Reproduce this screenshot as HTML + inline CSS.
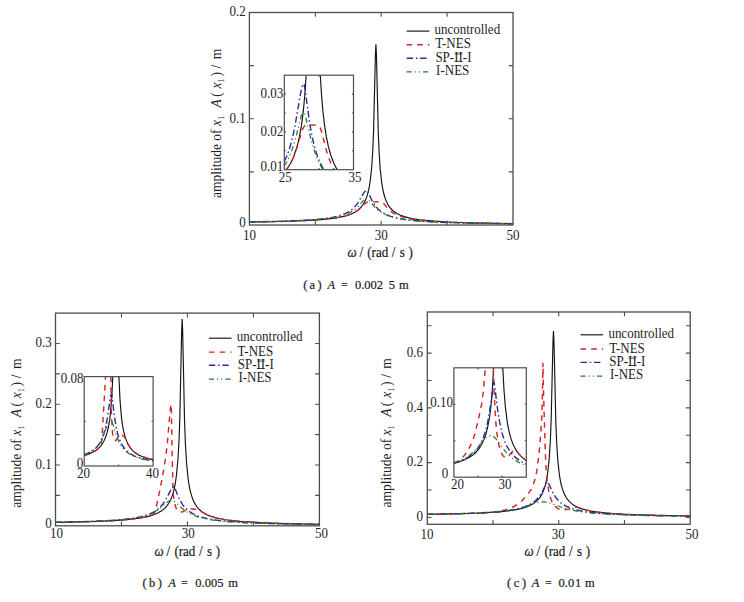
<!DOCTYPE html>
<html><head><meta charset="utf-8"><title>Amplitude-frequency response</title>
<style>html,body{margin:0;padding:0;background:#fff;}body{width:744px;height:602px;overflow:hidden;}svg{display:block;}</style>
</head><body>
<svg width="744" height="602" viewBox="0 0 744 602" font-family='"Liberation Serif", serif' fill="#1e1e1e">
<rect width="744" height="602" fill="#fff"/>
<path d="M249.40 221.99L279.98 221.45L303.44 220.66L321.21 219.56L334.65 218.07L340.06 217.15L344.77 216.08L348.86 214.86L352.41 213.44L355.51 211.81L358.18 209.95L360.52 207.79L362.56 205.29L364.31 202.47L365.83 199.25L367.15 195.58L368.30 191.38L369.29 186.67L370.18 181.16L371.66 167.46L372.71 151.50L373.57 131.30L375.42 54.65L375.91 44.30L376.41 54.19L378.28 132.70L379.17 153.51L380.26 169.61L381.78 183.20L382.70 188.72L383.75 193.52L384.97 197.74L386.36 201.37L387.94 204.52L389.78 207.30L391.93 209.73L394.40 211.84L397.27 213.68L400.56 215.27L404.35 216.64L408.73 217.83L413.78 218.86L419.58 219.74L434.01 221.18L453.22 222.25L478.83 223.04L513.00 223.63" fill="none" stroke="#141414" stroke-width="1.15"/>
<path d="M249.40 221.99L280.71 221.43L304.57 220.60L322.44 219.45L335.88 217.88L341.29 216.90L345.97 215.76L350.05 214.43L353.55 212.91L356.12 211.45L358.43 209.81L360.67 207.84L364.69 203.72L365.81 202.86L366.86 202.33L369.57 201.87L377.94 201.84L380.97 202.04L382.81 202.83L384.13 204.03L387.56 208.15L389.80 210.41L392.57 212.57L395.67 214.36L399.10 215.85L402.99 217.13L407.47 218.23L412.61 219.19L419.33 220.12L427.24 220.91L447.35 222.15L474.97 223.04L513.00 223.68" fill="none" stroke="#d42626" stroke-width="1.45" stroke-dasharray="5.6 5.1"/>
<path d="M249.40 221.96L283.68 221.23L308.26 220.09L317.76 219.33L325.73 218.43L332.45 217.35L338.19 216.04L342.67 214.63L346.56 212.96L349.92 211.01L352.89 208.70L355.39 206.14L357.70 203.13L364.29 192.06L365.68 190.67L366.99 190.26L367.92 191.57L371.21 198.90L373.39 202.97L375.83 206.51L378.60 209.52L382.02 212.23L386.11 214.52L390.86 216.39L396.53 217.95L403.45 219.26L411.75 220.35L421.77 221.25L433.83 221.99L465.94 223.08L513.00 223.81" fill="none" stroke="#2a2aa2" stroke-width="1.4" stroke-dasharray="6.4 2.9 1.5 2.7"/>
<path d="M249.40 222.00L281.76 221.36L305.69 220.38L323.23 218.98L330.21 218.08L336.21 217.02L341.16 215.83L345.44 214.46L349.20 212.86L352.56 210.99L355.06 209.21L357.44 207.15L359.94 204.52L364.49 199.11L365.61 198.12L366.40 197.80L367.26 198.22L368.38 199.26L373.13 205.17L375.83 208.10L378.46 210.42L381.36 212.44L385.19 214.48L389.54 216.19L394.55 217.63L400.41 218.86L407.60 219.93L416.10 220.84L426.12 221.59L438.05 222.21L469.03 223.17L513.00 223.82" fill="none" stroke="#237a2c" stroke-width="1.25" stroke-dasharray="5.1 2.9 1.1 3.2 1.1 3.1"/>
<path d="M315.30 225.00v-4.30M315.30 12.50v4.30M381.20 225.00v-4.30M381.20 12.50v4.30M447.10 225.00v-4.30M447.10 12.50v4.30M249.40 171.88h4.30M513.00 171.88h-4.30M249.40 118.75h4.30M513.00 118.75h-4.30M249.40 65.63h4.30M513.00 65.63h-4.30" stroke="#4d4d4d" stroke-width="1.1" fill="none"/>
<rect x="249.40" y="12.50" width="263.60" height="212.50" fill="none" stroke="#4d4d4d" stroke-width="1.3"/>
<text x="245.80" y="227.30" font-size="13" text-anchor="end" transform="matrix(1 0 0 1.040 0 -9.092)">0</text>
<text x="245.80" y="122.55" font-size="13" text-anchor="end" transform="matrix(1 0 0 1.040 0 -4.902)">0.1</text>
<text x="245.80" y="16.30" font-size="13" text-anchor="end" transform="matrix(1 0 0 1.040 0 -0.652)">0.2</text>
<text x="249.40" y="240.00" font-size="13" text-anchor="middle" transform="matrix(1 0 0 1.040 0 -9.600)">10</text>
<text x="381.20" y="240.00" font-size="13" text-anchor="middle" transform="matrix(1 0 0 1.040 0 -9.600)">30</text>
<text x="513.00" y="240.00" font-size="13" text-anchor="middle" transform="matrix(1 0 0 1.040 0 -9.600)">50</text>
<rect x="284.30" y="75.20" width="69.20" height="94.50" fill="#fff"/>
<path d="M286.33 169.70L288.45 166.72L290.40 163.50L292.21 159.97L293.87 156.16L296.83 147.52L299.33 137.38L301.46 125.43L303.29 111.32L304.83 94.80L306.16 75.20M320.30 75.20L321.48 94.11L322.85 110.41L324.43 124.32L326.28 136.35L328.41 146.64L330.90 155.53L333.80 163.15L337.17 169.70" fill="none" stroke="#141414" stroke-width="1.15"/>
<path d="M286.34 169.70L288.50 166.67L290.51 163.35L292.38 159.70L294.11 155.74L297.01 147.49L301.51 131.94L302.46 129.36L303.36 127.56L304.61 126.07L306.13 125.33L308.07 125.12L313.35 125.10L316.56 125.16L318.10 125.50L319.33 126.42L320.37 128.10L321.89 132.56L325.63 147.72L327.98 155.75L330.84 163.27L334.11 169.70" fill="none" stroke="#d42626" stroke-width="1.45" stroke-dasharray="5.6 5.1"/>
<path d="M284.30 161.44L286.40 156.94L288.34 151.96L290.14 146.44L291.82 140.33L293.53 133.03L295.21 124.60L301.03 90.83L301.81 87.62L302.55 85.47L303.27 84.26L304.03 83.90L305.07 89.35L309.61 122.65L311.30 132.39L313.07 140.93L315.31 149.62L317.80 157.24L320.60 163.90L323.73 169.70" fill="none" stroke="#2a2aa2" stroke-width="1.4" stroke-dasharray="6.4 2.9 1.5 2.7"/>
<path d="M284.30 165.91L286.56 162.13L288.68 157.95L290.67 153.36L292.54 148.32L296.00 136.85L301.40 115.23L302.51 111.94L303.34 110.73L303.73 111.12L304.21 112.09L305.34 115.60L310.90 138.88L314.44 151.10L316.35 156.47L318.38 161.33L320.53 165.70L322.85 169.70" fill="none" stroke="#237a2c" stroke-width="1.25" stroke-dasharray="5.1 2.9 1.1 3.2 1.1 3.1"/>
<path d="M318.90 169.70v-1.60M318.90 75.20v1.60M284.30 150.80h1.60M353.50 150.80h-1.60M284.30 131.90h1.60M353.50 131.90h-1.60M284.30 113.00h1.60M353.50 113.00h-1.60M284.30 94.10h1.60M353.50 94.10h-1.60" stroke="#4d4d4d" stroke-width="1.1" fill="none"/>
<rect x="284.30" y="75.20" width="69.20" height="94.50" fill="none" stroke="#4d4d4d" stroke-width="1.2"/>
<text x="283.30" y="170.70" font-size="13" text-anchor="end" transform="matrix(1 0 0 1.040 0 -6.828)">0.01</text>
<text x="283.30" y="136.10" font-size="13" text-anchor="end" transform="matrix(1 0 0 1.040 0 -5.444)">0.02</text>
<text x="283.30" y="98.50" font-size="13" text-anchor="end" transform="matrix(1 0 0 1.040 0 -3.940)">0.03</text>
<text x="285.20" y="181.80" font-size="13" text-anchor="middle" transform="matrix(1 0 0 1.040 0 -7.272)">25</text>
<text x="355.00" y="181.80" font-size="13" text-anchor="middle" transform="matrix(1 0 0 1.040 0 -7.272)">35</text>
<path d="M406.60 31.10H429.40" fill="none" stroke="#141414" stroke-width="1.15"/>
<text x="434.50" y="34.10" font-size="13" text-anchor="start" transform="matrix(1 0 0 1.040 0 -1.364)">uncontrolled</text>
<path d="M406.60 44.80H429.40" fill="none" stroke="#d42626" stroke-width="1.45" stroke-dasharray="5.6 5.1"/>
<text x="435.30" y="48.50" font-size="13" text-anchor="start" transform="matrix(1 0 0 1.040 0 -1.940)">T-NES</text>
<path d="M406.60 58.20H429.40" fill="none" stroke="#2a2aa2" stroke-width="1.4" stroke-dasharray="6.4 2.9 1.5 2.7"/>
<text x="435.40" y="61.80" font-size="13" text-anchor="start" transform="matrix(1 0 0 1.040 0 -2.472)">SP-II-I</text>
<path d="M454.70 53.95H462.40M454.70 61.40H462.40" stroke="#1e1e1e" stroke-width="0.75" fill="none"/>
<path d="M406.60 71.80H429.40" fill="none" stroke="#237a2c" stroke-width="1.25" stroke-dasharray="5.1 2.9 1.1 3.2 1.1 3.1"/>
<text x="436.10" y="74.90" font-size="13" text-anchor="start" transform="matrix(1 0 0 1.040 0 -2.996)">I-NES</text>
<text transform="matrix(1.040 0 0 1 -8.840 0) rotate(-90)" x="-198.00" y="221.00" font-size="13.5">amplitude of <tspan font-style="italic">x</tspan><tspan font-size="8.5" dy="3">1</tspan><tspan dy="-3" x="-107.40" font-style="italic">A</tspan><tspan x="-96.80">(</tspan><tspan x="-88.40" font-style="italic">x</tspan><tspan font-size="8.5" dy="3">1</tspan><tspan dy="-3" x="-76.60">)</tspan><tspan x="-68.40">/</tspan><tspan x="-59.30">m</tspan></text>
<text y="256.60" transform="matrix(1 0 0 1.040 0 -10.264)" font-size="13" stroke="#1e1e1e" stroke-width="0.2"><tspan x="347.50" font-style="italic">ω</tspan><tspan x="359.40">/</tspan><tspan x="367.30">(rad</tspan><tspan x="391.80">/</tspan><tspan x="399.80">s</tspan><tspan x="408.60">)</tspan></text>
<text y="288.90" transform="matrix(1 0 0 1.040 0 -11.556)" font-size="12.5" stroke="#1e1e1e" stroke-width="0.22"><tspan x="303.30">(</tspan><tspan x="309.60">a</tspan><tspan x="317.60">)</tspan><tspan x="327.60" font-style="italic">A</tspan><tspan x="341.30" font-size="11.2">=</tspan><tspan x="355.00">0.002</tspan><tspan x="388.80">5</tspan><tspan x="399.00">m</tspan></text>
<path d="M55.50 522.36L86.12 521.74L109.61 520.83L127.39 519.57L134.58 518.79L140.85 517.87L146.26 516.82L150.98 515.60L155.07 514.20L158.63 512.58L161.73 510.71L164.41 508.58L166.75 506.11L168.79 503.25L170.54 500.03L172.06 496.35L173.38 492.15L174.53 487.34L175.52 481.95L176.41 475.65L177.90 459.98L178.95 441.72L179.81 418.61L181.66 330.93L182.15 319.09L182.65 330.40L184.53 420.21L185.42 444.02L186.51 462.44L188.03 477.98L188.95 484.30L190.01 489.79L191.23 494.62L192.61 498.77L194.20 502.37L196.04 505.55L198.19 508.33L200.66 510.74L203.53 512.85L206.83 514.67L210.63 516.23L215.01 517.60L220.06 518.77L225.87 519.79L240.32 521.43L259.55 522.65L285.19 523.56L319.40 524.23" fill="none" stroke="#141414" stroke-width="1.15"/>
<path d="M55.50 522.36L97.22 521.38L112.80 520.65L125.51 519.75L136.78 518.49L145.65 516.95L151.11 515.57L153.66 513.68L154.70 512.33L155.26 510.94L157.69 500.39L161.92 479.61L165.73 457.32L167.20 444.95L170.29 409.01L171.09 404.26L171.35 408.33L172.19 457.93L173.18 492.52L173.81 498.84L174.52 502.86L176.09 508.19L176.89 509.80L177.84 510.85L179.49 511.73L181.71 512.00L183.11 511.59L186.95 509.38L189.10 508.79L191.35 508.69L196.49 509.52L198.35 510.00L200.27 510.86L204.91 513.67L207.85 515.13L214.03 517.32L218.74 518.50L224.04 519.50L237.28 521.16L251.41 522.22L269.07 523.05L291.44 523.71L319.40 524.23" fill="none" stroke="#d42626" stroke-width="1.45" stroke-dasharray="5.6 5.1"/>
<path d="M55.50 522.33L90.01 521.50L114.83 520.21L124.40 519.36L132.51 518.32L139.31 517.09L145.12 515.61L149.74 513.98L153.70 512.08L157.13 509.84L160.16 507.20L162.67 504.33L165.05 500.87L171.65 488.49L172.83 487.11L173.89 486.66L174.81 488.11L178.18 496.37L180.36 500.88L182.80 504.84L185.57 508.21L189.07 511.31L193.09 513.85L197.91 515.99L203.58 517.75L210.51 519.25L218.83 520.48L228.79 521.50L240.80 522.34L255.26 523.03L272.74 523.59L319.40 524.43" fill="none" stroke="#2a2aa2" stroke-width="1.4" stroke-dasharray="6.4 2.9 1.5 2.7"/>
<path d="M55.50 522.34L84.80 521.68L107.11 520.71L124.00 519.35L130.86 518.50L136.87 517.51L141.68 516.46L145.97 515.28L149.87 513.90L153.37 512.33L156.47 510.61L159.37 508.65L168.02 501.54L169.80 500.58L171.32 500.28L172.90 500.63L174.61 501.62L183.79 509.71L187.02 511.98L190.45 513.91L194.48 515.67L199.03 517.19L204.18 518.49L210.05 519.60L217.38 520.62L225.96 521.49L247.73 522.84L277.76 523.80L319.40 524.48" fill="none" stroke="#237a2c" stroke-width="1.25" stroke-dasharray="5.1 2.9 1.1 3.2 1.1 3.1"/>
<path d="M121.47 525.80v-4.30M121.47 313.10v4.30M187.45 525.80v-4.30M187.45 313.10v4.30M253.42 525.80v-4.30M253.42 313.10v4.30M55.50 495.41h4.30M319.40 495.41h-4.30M55.50 465.03h4.30M319.40 465.03h-4.30M55.50 434.64h4.30M319.40 434.64h-4.30M55.50 404.26h4.30M319.40 404.26h-4.30M55.50 373.87h4.30M319.40 373.87h-4.30M55.50 343.49h4.30M319.40 343.49h-4.30" stroke="#4d4d4d" stroke-width="1.1" fill="none"/>
<rect x="55.50" y="313.10" width="263.90" height="212.70" fill="none" stroke="#4d4d4d" stroke-width="1.3"/>
<text x="51.80" y="528.30" font-size="13" text-anchor="end" transform="matrix(1 0 0 1.040 0 -21.132)">0</text>
<text x="51.80" y="469.03" font-size="13" text-anchor="end" transform="matrix(1 0 0 1.040 0 -18.761)">0.1</text>
<text x="51.80" y="408.26" font-size="13" text-anchor="end" transform="matrix(1 0 0 1.040 0 -16.330)">0.2</text>
<text x="51.80" y="347.49" font-size="13" text-anchor="end" transform="matrix(1 0 0 1.040 0 -13.899)">0.3</text>
<text x="56.50" y="538.50" font-size="13" text-anchor="middle" transform="matrix(1 0 0 1.040 0 -21.540)">10</text>
<text x="188.15" y="538.50" font-size="13" text-anchor="middle" transform="matrix(1 0 0 1.040 0 -21.540)">30</text>
<text x="321.40" y="538.50" font-size="13" text-anchor="middle" transform="matrix(1 0 0 1.040 0 -21.540)">50</text>
<rect x="84.20" y="376.60" width="68.90" height="89.40" fill="#fff"/>
<path d="M84.20 455.48L88.44 454.15L92.11 452.60L95.29 450.81L98.05 448.73L100.44 446.32L102.51 443.54L104.30 440.33L105.86 436.59L107.20 432.31L108.38 427.34L109.39 421.63L110.27 414.99L111.71 398.45L112.79 376.60M118.90 376.60L120.06 400.92L121.61 418.59L122.58 425.60L123.72 431.60L125.05 436.76L126.60 441.15L128.41 444.90L130.52 448.11L132.99 450.86L135.86 453.21L139.23 455.21L143.15 456.92L147.74 458.38L153.10 459.63" fill="none" stroke="#141414" stroke-width="1.15"/>
<path d="M84.20 455.48L87.85 454.36L91.08 453.09L93.91 451.65L96.44 450.02L99.70 447.15L101.16 443.07L101.69 440.36L102.02 436.72L105.55 376.60M110.96 376.60L111.16 402.78L111.65 419.43L112.57 433.56L113.01 436.55L113.79 438.71L114.89 440.29L115.47 440.62L115.90 440.53L116.63 439.48L117.87 436.70L118.62 435.49L119.93 434.57L120.53 434.50L121.00 434.66L123.55 436.22L124.36 436.95L125.93 439.60L128.05 444.24L129.60 446.83L131.95 449.81L134.78 452.41L138.28 454.71L142.39 456.63L147.31 458.26L153.10 459.63" fill="none" stroke="#d42626" stroke-width="1.45" stroke-dasharray="5.6 5.1"/>
<path d="M84.20 454.69L87.37 453.49L90.17 452.13L92.68 450.59L94.93 448.83L96.93 446.85L98.72 444.61L100.31 442.11L101.75 439.24L103.91 433.45L105.77 426.24L107.47 417.04L110.30 397.92L110.97 395.01L111.29 394.26L111.59 394.03L112.11 397.17L114.53 417.33L116.48 428.70L117.74 433.93L119.17 438.47L120.78 442.39L122.61 445.78L124.77 448.78L127.28 451.38L130.17 453.61L133.50 455.52L137.36 457.15L141.84 458.55L147.06 459.75L153.10 460.77" fill="none" stroke="#2a2aa2" stroke-width="1.4" stroke-dasharray="6.4 2.9 1.5 2.7"/>
<path d="M84.20 454.62L88.77 452.74L92.65 450.46L95.96 447.72L98.79 444.44L100.81 441.31L102.65 437.68L104.67 432.62L108.41 421.60L109.40 419.66L109.84 419.20L110.25 419.07L111.10 419.80L112.04 421.79L116.18 434.84L118.75 441.30L121.67 446.46L123.30 448.62L125.09 450.56L127.35 452.52L129.85 454.24L132.68 455.76L135.85 457.09L139.41 458.27L143.43 459.30L153.10 461.00" fill="none" stroke="#237a2c" stroke-width="1.25" stroke-dasharray="5.1 2.9 1.1 3.2 1.1 3.1"/>
<path d="M118.65 466.00v-1.60M118.65 376.60v1.60M84.20 421.30h1.60M153.10 421.30h-1.60" stroke="#4d4d4d" stroke-width="1.1" fill="none"/>
<rect x="84.20" y="376.60" width="68.90" height="89.40" fill="none" stroke="#4d4d4d" stroke-width="1.2"/>
<text x="83.40" y="382.80" font-size="13" text-anchor="end" transform="matrix(1 0 0 1.040 0 -15.312)">0.08</text>
<text x="83.20" y="468.20" font-size="13" text-anchor="end" transform="matrix(1 0 0 1.040 0 -18.728)">0</text>
<text x="83.50" y="478.50" font-size="13" text-anchor="middle" transform="matrix(1 0 0 1.040 0 -19.140)">20</text>
<text x="152.50" y="478.50" font-size="13" text-anchor="middle" transform="matrix(1 0 0 1.040 0 -19.140)">40</text>
<path d="M208.90 338.20H231.50" fill="none" stroke="#141414" stroke-width="1.15"/>
<text x="236.80" y="341.20" font-size="13" text-anchor="start" transform="matrix(1 0 0 1.040 0 -13.648)">uncontrolled</text>
<path d="M208.90 352.10H231.50" fill="none" stroke="#d42626" stroke-width="1.45" stroke-dasharray="5.6 5.1"/>
<text x="237.60" y="355.80" font-size="13" text-anchor="start" transform="matrix(1 0 0 1.040 0 -14.232)">T-NES</text>
<path d="M208.90 365.30H231.50" fill="none" stroke="#2a2aa2" stroke-width="1.4" stroke-dasharray="6.4 2.9 1.5 2.7"/>
<text x="237.70" y="368.90" font-size="13" text-anchor="start" transform="matrix(1 0 0 1.040 0 -14.756)">SP-II-I</text>
<path d="M257.00 361.05H264.70M257.00 368.50H264.70" stroke="#1e1e1e" stroke-width="0.75" fill="none"/>
<path d="M208.90 379.00H231.50" fill="none" stroke="#237a2c" stroke-width="1.25" stroke-dasharray="5.1 2.9 1.1 3.2 1.1 3.1"/>
<text x="238.40" y="382.10" font-size="13" text-anchor="start" transform="matrix(1 0 0 1.040 0 -15.284)">I-NES</text>
<text transform="matrix(1.040 0 0 1 -0.840 0) rotate(-90)" x="-507.80" y="21.00" font-size="13.5">amplitude of <tspan font-style="italic">x</tspan><tspan font-size="8.5" dy="3">1</tspan><tspan dy="-3" x="-417.20" font-style="italic">A</tspan><tspan x="-406.60">(</tspan><tspan x="-398.20" font-style="italic">x</tspan><tspan font-size="8.5" dy="3">1</tspan><tspan dy="-3" x="-386.40">)</tspan><tspan x="-378.20">/</tspan><tspan x="-369.10">m</tspan></text>
<text y="555.80" transform="matrix(1 0 0 1.040 0 -22.232)" font-size="13" stroke="#1e1e1e" stroke-width="0.2"><tspan x="154.60" font-style="italic">ω</tspan><tspan x="166.50">/</tspan><tspan x="174.40">(rad</tspan><tspan x="198.90">/</tspan><tspan x="206.90">s</tspan><tspan x="215.70">)</tspan></text>
<text y="587.00" transform="matrix(1 0 0 1.040 0 -23.480)" font-size="12.5" stroke="#1e1e1e" stroke-width="0.22"><tspan x="142.40">(</tspan><tspan x="148.90">b</tspan><tspan x="157.80">)</tspan><tspan x="168.20" font-style="italic">A</tspan><tspan x="181.20" font-size="11.2">=</tspan><tspan x="195.30">0.005</tspan><tspan x="228.30">m</tspan></text>
<path d="M427.30 514.35L457.80 513.79L481.20 512.97L498.92 511.84L512.33 510.30L517.72 509.35L522.42 508.26L526.49 506.99L530.04 505.53L533.13 503.85L535.79 501.93L538.13 499.70L540.16 497.13L541.91 494.22L543.42 490.90L544.73 487.11L545.88 482.78L546.87 477.92L547.76 472.24L549.24 458.11L550.29 441.65L551.14 420.82L552.98 341.77L553.47 331.10L553.97 341.29L555.84 422.26L556.73 443.72L557.81 460.33L559.33 474.34L560.25 480.04L561.30 484.99L562.51 489.34L563.89 493.08L565.47 496.33L567.31 499.19L569.45 501.70L571.91 503.88L574.77 505.78L578.06 507.41L581.84 508.83L586.21 510.06L591.24 511.12L597.02 512.03L611.42 513.51L630.58 514.61L656.12 515.43L690.20 516.03" fill="none" stroke="#141414" stroke-width="1.15"/>
<path d="M427.30 514.35L456.46 513.83L479.02 513.07L493.00 512.29L500.57 511.08L505.06 509.98L509.48 508.47L513.87 506.49L517.76 504.32L519.82 502.79L521.77 500.94L526.06 496.13L528.86 492.66L531.02 489.74L532.19 487.61L535.60 477.49L536.77 471.13L538.97 454.27L540.85 432.83L541.82 416.70L542.52 391.44L542.98 362.68L543.50 391.44L545.36 453.64L546.29 472.39L547.59 484.06L548.73 490.89L549.64 495.09L550.81 498.81L552.14 502.05L553.45 504.34L554.94 506.12L556.62 507.60L558.34 508.74L559.65 509.34L561.44 509.74L563.76 509.85L566.64 509.51L569.34 508.84L574.22 507.26L575.78 507.10L578.47 507.59L581.83 508.82L585.47 509.87L591.91 511.24L601.15 512.55L612.91 513.62L626.63 514.43L643.71 515.09L690.20 516.03" fill="none" stroke="#d42626" stroke-width="1.45" stroke-dasharray="5.6 5.1"/>
<path d="M427.30 514.37L463.33 513.63L489.16 512.46L499.02 511.68L507.37 510.74L514.41 509.61L520.39 508.24L525.25 506.69L529.46 504.82L533.08 502.60L536.17 500.01L538.60 497.30L540.84 494.11L542.94 490.35L546.36 483.29L547.54 481.71L548.46 483.02L551.81 490.57L553.98 494.70L556.42 498.31L559.11 501.33L562.53 504.13L566.54 506.47L571.27 508.42L576.86 510.03L583.70 511.41L591.85 512.54L601.65 513.47L613.41 514.24L644.64 515.40L690.20 516.17" fill="none" stroke="#2a2aa2" stroke-width="1.4" stroke-dasharray="6.4 2.9 1.5 2.7"/>
<path d="M427.30 514.34L451.69 513.88L471.35 513.24L487.19 512.39L499.94 511.30L508.75 510.16L516.38 508.75L523.94 506.80L536.69 502.65L539.98 502.01L543.27 501.84L546.42 502.08L549.58 502.80L562.40 507.57L570.42 509.87L579.56 511.61L590.60 512.98L606.58 514.18L627.35 515.08L654.50 515.75L690.20 516.25" fill="none" stroke="#237a2c" stroke-width="1.25" stroke-dasharray="5.1 2.9 1.1 3.2 1.1 3.1"/>
<path d="M493.03 524.30v-4.30M493.03 312.00v4.30M558.75 524.30v-4.30M558.75 312.00v4.30M624.48 524.30v-4.30M624.48 312.00v4.30M427.30 517.45h4.30M690.20 517.45h-4.30M427.30 490.06h4.30M690.20 490.06h-4.30M427.30 462.66h4.30M690.20 462.66h-4.30M427.30 435.27h4.30M690.20 435.27h-4.30M427.30 407.88h4.30M690.20 407.88h-4.30M427.30 380.48h4.30M690.20 380.48h-4.30M427.30 353.09h4.30M690.20 353.09h-4.30M427.30 325.70h4.30M690.20 325.70h-4.30" stroke="#4d4d4d" stroke-width="1.1" fill="none"/>
<rect x="427.30" y="312.00" width="262.90" height="212.30" fill="none" stroke="#4d4d4d" stroke-width="1.3"/>
<text x="423.00" y="521.25" font-size="13" text-anchor="end" transform="matrix(1 0 0 1.040 0 -20.850)">0</text>
<text x="423.00" y="466.46" font-size="13" text-anchor="end" transform="matrix(1 0 0 1.040 0 -18.659)">0.2</text>
<text x="423.00" y="411.68" font-size="13" text-anchor="end" transform="matrix(1 0 0 1.040 0 -16.467)">0.4</text>
<text x="423.00" y="356.89" font-size="13" text-anchor="end" transform="matrix(1 0 0 1.040 0 -14.276)">0.6</text>
<text x="426.90" y="539.20" font-size="13" text-anchor="middle" transform="matrix(1 0 0 1.040 0 -21.568)">10</text>
<text x="558.25" y="539.20" font-size="13" text-anchor="middle" transform="matrix(1 0 0 1.040 0 -21.568)">30</text>
<text x="692.00" y="539.20" font-size="13" text-anchor="middle" transform="matrix(1 0 0 1.040 0 -21.568)">50</text>
<rect x="453.90" y="367.80" width="72.40" height="109.40" fill="#fff"/>
<path d="M453.90 463.46L459.67 461.79L464.70 459.84L469.08 457.59L472.88 454.99L476.19 452.00L479.08 448.55L481.59 444.58L483.77 440.00L485.68 434.72L487.33 428.67L488.77 421.74L490.02 413.74L491.12 404.52L492.07 393.96L493.64 367.80M502.81 367.80L504.00 390.18L505.48 408.11L507.33 422.39L508.41 428.39L509.63 433.78L511.00 438.59L512.52 442.87L514.22 446.70L516.13 450.13L518.26 453.19L520.64 455.90L523.31 458.34L526.30 460.51" fill="none" stroke="#141414" stroke-width="1.15"/>
<path d="M453.90 463.46L453.90 463.46M453.90 463.46L453.90 463.46M453.90 463.46L453.90 463.46M453.90 463.46L453.90 463.46M453.90 463.46L457.49 461.60L459.46 460.23L462.35 457.68L464.82 454.87L467.23 451.39L469.67 447.16L471.72 442.95L473.61 438.12L475.42 431.79L478.44 419.22L482.10 401.67L483.16 393.18L485.36 367.80M493.29 367.80L494.35 396.97L495.80 421.87L496.85 432.69L497.71 439.23L499.05 445.78L500.79 451.72L501.81 453.99L503.21 455.92L504.58 456.85L505.84 456.92L507.18 456.46L508.55 455.64L511.59 452.49L513.51 450.04L513.99 449.71L514.68 449.67L516.65 450.94L519.02 454.12L521.68 456.92L523.88 458.79L526.30 460.51" fill="none" stroke="#d42626" stroke-width="1.45" stroke-dasharray="5.6 5.1"/>
<path d="M453.90 463.18L458.95 461.61L463.39 459.82L467.32 457.77L470.82 455.43L473.91 452.77L476.64 449.75L479.08 446.31L481.25 442.40L483.09 438.24L484.73 433.60L486.23 428.37L487.63 422.35L489.68 410.98L493.01 386.63L493.95 382.03L494.70 386.18L497.64 409.85L499.45 421.18L501.94 432.48L503.34 437.26L504.86 441.53L506.65 445.60L508.63 449.23L510.83 452.46L513.29 455.36L516.02 457.92L519.08 460.22L522.49 462.24L526.30 464.05" fill="none" stroke="#2a2aa2" stroke-width="1.4" stroke-dasharray="6.4 2.9 1.5 2.7"/>
<path d="M453.90 462.56L458.46 461.02L462.57 459.27L466.31 457.28L469.74 455.03L472.97 452.42L476.09 449.38L483.93 439.96L486.03 437.73L487.26 436.73L488.45 436.06L489.61 435.71L490.86 435.63L492.02 435.82L493.13 436.29L495.45 438.21L497.48 440.70L504.91 450.98L507.86 454.30L510.90 457.14L514.23 459.67L517.85 461.88L521.86 463.83L526.30 465.54" fill="none" stroke="#237a2c" stroke-width="1.25" stroke-dasharray="5.1 2.9 1.1 3.2 1.1 3.1"/>
<path d="M478.03 477.20v-1.60M478.03 367.80v1.60M502.17 477.20v-1.60M502.17 367.80v1.60M453.90 440.73h1.60M526.30 440.73h-1.60M453.90 404.27h1.60M526.30 404.27h-1.60" stroke="#4d4d4d" stroke-width="1.1" fill="none"/>
<rect x="453.90" y="367.80" width="72.40" height="109.40" fill="none" stroke="#4d4d4d" stroke-width="1.2"/>
<text x="453.00" y="406.90" font-size="13" text-anchor="end" transform="matrix(1 0 0 1.040 0 -16.276)">0.10</text>
<text x="448.30" y="478.10" font-size="13" text-anchor="end" transform="matrix(1 0 0 1.040 0 -19.124)">0</text>
<text x="457.50" y="489.50" font-size="13" text-anchor="middle" transform="matrix(1 0 0 1.040 0 -19.580)">20</text>
<text x="505.00" y="489.50" font-size="13" text-anchor="middle" transform="matrix(1 0 0 1.040 0 -19.580)">30</text>
<path d="M580.50 334.80H603.10" fill="none" stroke="#141414" stroke-width="1.15"/>
<text x="608.40" y="337.80" font-size="13" text-anchor="start" transform="matrix(1 0 0 1.040 0 -13.512)">uncontrolled</text>
<path d="M580.50 349.00H603.10" fill="none" stroke="#d42626" stroke-width="1.45" stroke-dasharray="5.6 5.1"/>
<text x="609.20" y="352.70" font-size="13" text-anchor="start" transform="matrix(1 0 0 1.040 0 -14.108)">T-NES</text>
<path d="M580.50 362.40H603.10" fill="none" stroke="#2a2aa2" stroke-width="1.4" stroke-dasharray="6.4 2.9 1.5 2.7"/>
<text x="609.30" y="366.00" font-size="13" text-anchor="start" transform="matrix(1 0 0 1.040 0 -14.640)">SP-II-I</text>
<path d="M628.60 358.15H636.30M628.60 365.60H636.30" stroke="#1e1e1e" stroke-width="0.75" fill="none"/>
<path d="M580.50 376.00H603.10" fill="none" stroke="#237a2c" stroke-width="1.25" stroke-dasharray="5.1 2.9 1.1 3.2 1.1 3.1"/>
<text x="610.00" y="379.10" font-size="13" text-anchor="start" transform="matrix(1 0 0 1.040 0 -15.164)">I-NES</text>
<text transform="matrix(1.040 0 0 1 -15.628 0) rotate(-90)" x="-507.40" y="390.70" font-size="13.5">amplitude of <tspan font-style="italic">x</tspan><tspan font-size="8.5" dy="3">1</tspan><tspan dy="-3" x="-416.80" font-style="italic">A</tspan><tspan x="-406.20">(</tspan><tspan x="-397.80" font-style="italic">x</tspan><tspan font-size="8.5" dy="3">1</tspan><tspan dy="-3" x="-386.00">)</tspan><tspan x="-377.80">/</tspan><tspan x="-368.70">m</tspan></text>
<text y="556.20" transform="matrix(1 0 0 1.040 0 -22.248)" font-size="13" stroke="#1e1e1e" stroke-width="0.2"><tspan x="524.60" font-style="italic">ω</tspan><tspan x="536.50">/</tspan><tspan x="544.40">(rad</tspan><tspan x="568.90">/</tspan><tspan x="576.90">s</tspan><tspan x="585.70">)</tspan></text>
<text y="587.00" transform="matrix(1 0 0 1.040 0 -23.480)" font-size="12.5" stroke="#1e1e1e" stroke-width="0.22"><tspan x="507.10">(</tspan><tspan x="513.70">c</tspan><tspan x="521.90">)</tspan><tspan x="531.80" font-style="italic">A</tspan><tspan x="545.20" font-size="11.2">=</tspan><tspan x="558.60">0.0</tspan><tspan x="575.00">1</tspan><tspan x="584.90">m</tspan></text>
</svg>
</body></html>
